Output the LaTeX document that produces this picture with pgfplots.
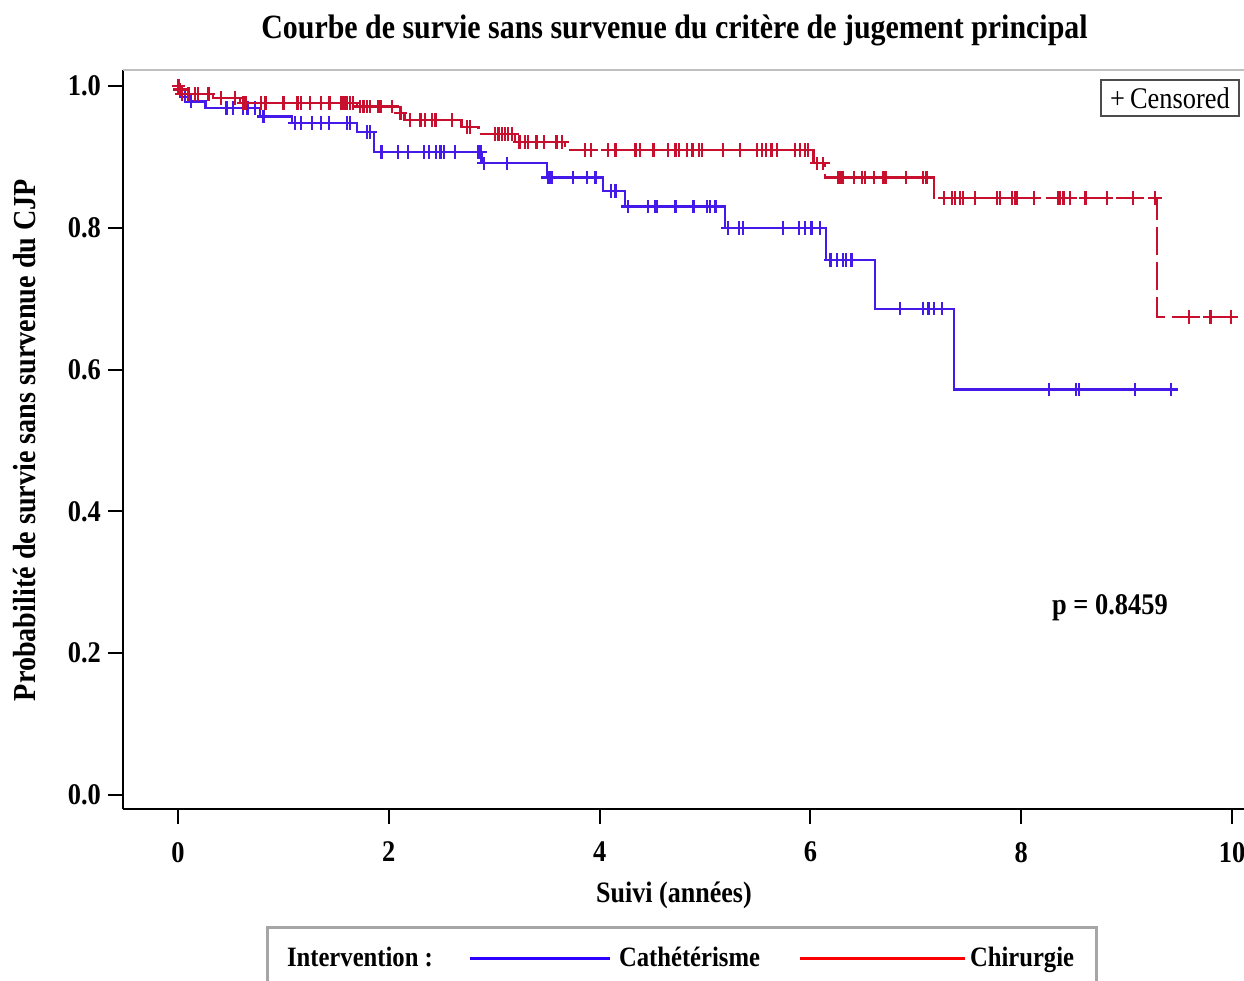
\documentclass[border=0pt]{standalone}
\usepackage{fontspec}
\setmainfont{Liberation Serif}[FakeStretch=0.88]
\usepackage{pgfplots}
\pgfplotsset{compat=1.18}
\definecolor{kmblue}{RGB}{70,25,235}
\definecolor{kmred}{RGB}{200,15,45}
\definecolor{lgblue}{RGB}{45,0,255}
\definecolor{lgred}{RGB}{250,0,0}
\newcommand{\pxc}[2]{({(#1-123)*0.5pt},{(809-#2)*0.5pt})}
\begin{document}
\begin{tikzpicture}
\begin{axis}[
  name=ax, at={(0,0)}, anchor=south west,
  scale only axis, width=563.5pt, height=369.5pt,
  xmin=-0.522, xmax=10.17, ymin=-0.0197, ymax=1.0226,
  axis x line*=bottom, axis y line*=left,
  axis line style={line width=1.2pt, black, -},
  xtick={0,2,4,6,8,10}, ytick={0,0.2,0.4,0.6,0.8,1.0},
  tick align=outside, major tick length=7.5pt,
  tick style={line width=1pt, black},
  ticklabel style={font=\bfseries\fontsize{15}{18}\selectfont},
  /pgf/number format/assume math mode=true,
  yticklabel style={/pgf/number format/.cd, fixed, fixed zerofill, precision=1},
  xticklabel style={yshift=-5.5pt, /pgf/number format/.cd, fixed, precision=0},
  clip=false,
]
\draw[gray!50, line width=0.8pt] (rel axis cs:0,1) -- (rel axis cs:1,1);
% Catheterisme
\addplot[const plot, color=kmblue, line width=1.15pt] coordinates {
(0,1.0) (0.01,0.990) (0.03,0.985) (0.10,0.978) (0.26,0.969) (0.78,0.957)
(1.08,0.948) (1.70,0.935) (1.86,0.907) (2.88,0.891) (3.50,0.871) (4.03,0.852)
(4.24,0.830) (5.19,0.800) (6.15,0.755) (6.61,0.686) (7.36,0.572) (9.47,0.572)};
\addplot[only marks, mark=+, mark size=3.4pt, color=kmblue, mark options={line width=1.1pt}] coordinates {
(0.07,0.985) (0.12,0.978) (0.46,0.969) (0.52,0.969) (0.62,0.969) (0.66,0.969) (0.73,0.969)
(0.81,0.957) (1.11,0.948) (1.17,0.948) (1.27,0.948) (1.36,0.948) (1.43,0.948) (1.60,0.948)
(1.63,0.948) (1.79,0.935) (1.82,0.935) (1.93,0.907) (2.09,0.907) (2.18,0.907) (2.33,0.907)
(2.38,0.907) (2.45,0.907) (2.49,0.907) (2.52,0.907) (2.63,0.907) (2.85,0.907) (2.87,0.907)
(2.90,0.891) (3.12,0.891) (3.51,0.871) (3.53,0.871) (3.55,0.871) (3.75,0.871) (3.88,0.871)
(3.96,0.871) (4.11,0.852) (4.15,0.852) (4.27,0.830) (4.46,0.830) (4.53,0.830) (4.54,0.830)
(4.72,0.830) (4.89,0.830) (5.02,0.830) (5.05,0.830) (5.10,0.830) (5.22,0.800) (5.32,0.800)
(5.36,0.800) (5.74,0.800) (5.89,0.800) (5.95,0.800) (6.01,0.800) (6.09,0.800) (6.19,0.755)
(6.25,0.755) (6.31,0.755) (6.34,0.755) (6.39,0.755) (6.85,0.686) (7.07,0.686) (7.12,0.686)
(7.17,0.686) (7.25,0.686) (8.26,0.572) (8.52,0.572) (8.55,0.572) (9.08,0.572) (9.42,0.572)};
% Chirurgie
\addplot[const plot, color=kmred, line width=1.15pt, dash pattern=on 14pt off 3.5pt] coordinates {
(0,1.0) (0.01,0.995) (0.03,0.989) (0.335,0.983) (0.59,0.976) (1.70,0.971) (2.07,0.962)
(2.15,0.952) (2.69,0.942) (2.85,0.932) (3.20,0.921) (3.67,0.910) (6.03,0.891) (6.14,0.871)
(7.17,0.842) (9.29,0.674) (10.05,0.674)};
\addplot[only marks, mark=+, mark size=3.4pt, color=kmred, mark options={line width=1.1pt,solid}] coordinates {
(0.005,1.0) (0.02,0.995) (0.035,0.989) (0.10,0.989) (0.16,0.989) (0.19,0.989) (0.29,0.989)
(0.41,0.983) (0.54,0.983) (0.62,0.976) (0.64,0.976) (0.79,0.976) (0.83,0.976) (1.00,0.976)
(1.13,0.976) (1.14,0.976) (1.17,0.976) (1.25,0.976) (1.36,0.976) (1.43,0.976) (1.44,0.976)
(1.55,0.976) (1.58,0.976) (1.60,0.976) (1.63,0.976) (1.66,0.976) (1.73,0.971) (1.76,0.971)
(1.79,0.971) (1.82,0.971) (1.90,0.971) (1.92,0.971) (2.03,0.971) (2.11,0.962) (2.20,0.952)
(2.30,0.952) (2.34,0.952) (2.41,0.952) (2.44,0.952) (2.45,0.952) (2.60,0.952) (2.74,0.942)
(2.77,0.942) (3.01,0.932) (3.04,0.932) (3.07,0.932) (3.10,0.932) (3.13,0.932) (3.17,0.932)
(3.24,0.921) (3.29,0.921) (3.32,0.921) (3.40,0.921) (3.47,0.921) (3.59,0.921) (3.64,0.921)
(3.86,0.910) (3.92,0.910) (4.08,0.910) (4.15,0.910) (4.34,0.910) (4.38,0.910) (4.51,0.910)
(4.65,0.910) (4.72,0.910) (4.75,0.910) (4.83,0.910) (4.88,0.910) (4.94,0.910) (4.97,0.910)
(5.17,0.910) (5.33,0.910) (5.49,0.910) (5.54,0.910) (5.58,0.910) (5.63,0.910) (5.68,0.910)
(5.85,0.910) (5.90,0.910) (5.95,0.910) (5.98,0.910) (6.06,0.891) (6.12,0.891)
(6.26,0.871) (6.28,0.871) (6.30,0.871) (6.31,0.871) (6.41,0.871) (6.49,0.871) (6.52,0.871)
(6.60,0.871) (6.69,0.871) (6.71,0.871) (6.72,0.871) (6.91,0.871) (7.07,0.871) (7.10,0.871)
(7.27,0.842) (7.34,0.842) (7.37,0.842) (7.42,0.842) (7.45,0.842) (7.56,0.842) (7.77,0.842)
(7.80,0.842) (7.91,0.842) (7.94,0.842) (7.96,0.842) (8.12,0.842) (8.35,0.842) (8.37,0.842)
(8.40,0.842) (8.46,0.842) (8.61,0.842) (8.81,0.842) (9.06,0.842) (9.27,0.842)
(9.59,0.674) (9.79,0.674) (9.80,0.674) (9.99,0.674)};
\end{axis}
\node[font=\bfseries\fontsize{17}{20}\selectfont] at \pxc{674.5}{30} {Courbe de survie sans survenue du critère de jugement principal};
\node[rotate=90, font=\bfseries\fontsize{16}{19}\selectfont] at \pxc{25}{440} {Probabilité de survie sans survenue du CJP};
\node[font=\bfseries\fontsize{14.8}{17}\selectfont] at \pxc{674}{895} {Suivi (années)};
\node[font=\bfseries\fontsize{15}{18}\selectfont] at \pxc{1110}{608} {p = 0.8459};
\node[draw=black!70, line width=0.8pt, minimum width=69pt, minimum height=18pt, inner sep=1pt, font=\fontsize{15}{18}\selectfont] at \pxc{1170}{98} {+\,Censored};
\draw[gray!70, line width=1.5pt] \pxc{268}{927} rectangle \pxc{1096}{1010};
\node[anchor=base west, font=\bfseries\fontsize{14}{17}\selectfont] at \pxc{280}{966} {Intervention :};
\draw[lgblue, line width=1.5pt] \pxc{470}{958} -- \pxc{610}{958};
\node[anchor=base west, font=\bfseries\fontsize{14}{17}\selectfont] at \pxc{612}{966} {Cathétérisme};
\draw[lgred, line width=1.5pt] \pxc{800}{958} -- \pxc{965}{958};
\node[anchor=base west, font=\bfseries\fontsize{14}{17}\selectfont] at \pxc{963}{966} {Chirurgie};
\pgfresetboundingbox
\path[use as bounding box] \pxc{0}{0} rectangle \pxc{1244}{981};
\end{tikzpicture}
\end{document}
